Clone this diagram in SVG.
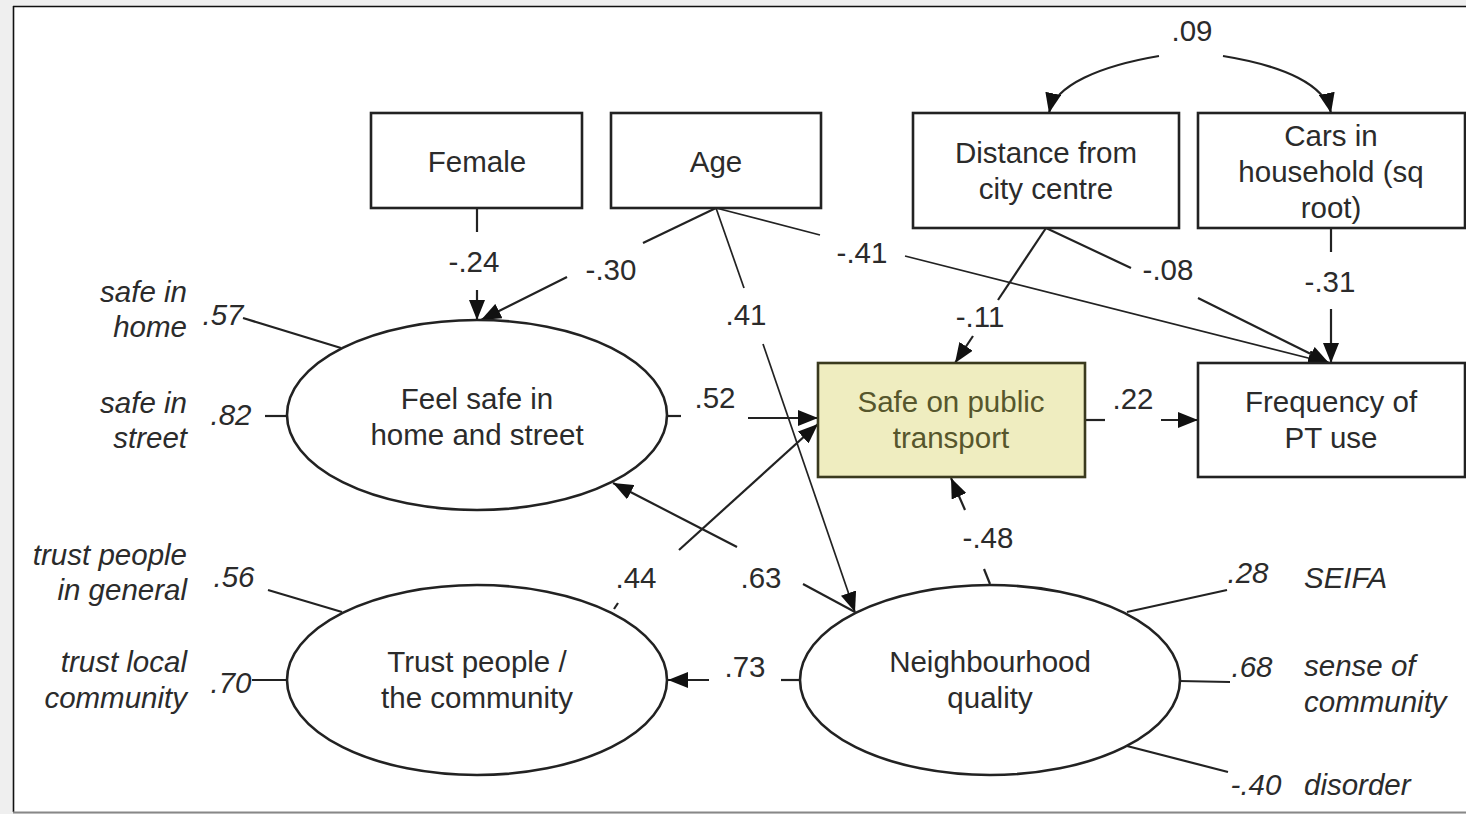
<svg xmlns="http://www.w3.org/2000/svg" width="1466" height="814" viewBox="0 0 1466 814">
<style>
.t{font-family:"Liberation Sans",Arial,sans-serif;font-size:29.5px;fill:#2b2b2b;text-anchor:middle}
.i{font-family:"Liberation Sans",Arial,sans-serif;font-size:29.5px;fill:#2b2b2b;font-style:italic}
.r{text-anchor:end}
.m{text-anchor:middle}
.box{fill:#fff;stroke:#222;stroke-width:2.6}
.ell{fill:#fff;stroke:#222;stroke-width:2.6}
.ln{stroke:#222;stroke-width:2.2;fill:none}
.th{stroke:#222;stroke-width:1.7;fill:none}
.a{marker-end:url(#ah)}
</style>
<defs>
<marker id="ah" viewBox="0 0 20 16" refX="20" refY="8" markerWidth="20" markerHeight="16" markerUnits="userSpaceOnUse" orient="auto">
<path d="M0,0 L20,8 L0,16 Z" fill="#111"/>
</marker>
</defs>
<rect x="0" y="0" width="1466" height="814" fill="#efefef"/>
<rect x="13" y="6" width="1460" height="806" fill="#fff"/>
<line x1="13" y1="6.5" x2="1466" y2="6.5" stroke="#111" stroke-width="1.6"/>
<line x1="13.5" y1="6" x2="13.5" y2="812" stroke="#111" stroke-width="1.6"/>
<line x1="13" y1="812.5" x2="1466" y2="812.5" stroke="#888" stroke-width="2"/>

<g id="connectors">
<!-- .09 covariance -->
<path class="ln a" d="M1159,56 C1100,66 1055,85 1049,113"/>
<path class="ln a" d="M1223,56 C1285,66 1325,85 1331,113"/>
<!-- Female -> Feel safe -->
<line class="ln" x1="477" y1="208" x2="477" y2="232"/>
<line class="ln a" x1="477" y1="290" x2="477" y2="320"/>
<!-- Age -> Feel safe -->
<line class="ln" x1="716" y1="208" x2="643" y2="243"/>
<line class="ln a" x1="567" y1="277" x2="481" y2="320"/>
<!-- Age -> Neighbourhood -->
<line class="th" x1="716" y1="208" x2="744" y2="288"/>
<line class="th a" x1="763" y1="344" x2="855" y2="612"/>
<!-- Age -> Frequency -->
<line class="th" x1="716" y1="208" x2="820" y2="235"/>
<line class="th a" x1="905" y1="256" x2="1328" y2="363"/>
<!-- Distance -> Frequency -->
<line class="ln" x1="1046" y1="228" x2="1131" y2="268"/>
<line class="ln a" x1="1198" y1="298" x2="1329" y2="363"/>
<!-- Distance -> Safe PT -->
<line class="ln" x1="1046" y1="228" x2="998" y2="300"/>
<line class="ln a" x1="973" y1="336" x2="955" y2="363"/>
<!-- Cars -> Frequency -->
<line class="ln" x1="1331" y1="228" x2="1331" y2="252"/>
<line class="ln a" x1="1331" y1="309" x2="1331" y2="363"/>
<!-- Feel safe -> Safe PT -->
<line class="ln" x1="667" y1="416" x2="681" y2="416"/>
<line class="ln a" x1="748" y1="418" x2="818" y2="418"/>
<!-- Trust -> Safe PT -->
<line class="ln" x1="614" y1="609" x2="618" y2="603"/>
<line class="ln a" x1="679" y1="550" x2="818" y2="424"/>
<!-- Neighbourhood -> Feel safe -->
<line class="ln" x1="855" y1="612" x2="803" y2="584"/>
<line class="ln a" x1="737" y1="547" x2="613" y2="483"/>
<!-- Neighbourhood -> Safe PT -->
<line class="ln" x1="990" y1="584" x2="984" y2="569"/>
<line class="ln a" x1="965" y1="510" x2="951" y2="478"/>
<!-- Neighbourhood -> Trust -->
<line class="ln" x1="800" y1="680" x2="781" y2="680"/>
<line class="ln a" x1="709" y1="680" x2="668" y2="680"/>
<!-- Safe PT -> Frequency -->
<line class="ln" x1="1085" y1="420" x2="1105" y2="420"/>
<line class="ln a" x1="1161" y1="420" x2="1198" y2="420"/>
<!-- indicator lines -->
<line class="ln" x1="243" y1="318" x2="341" y2="348"/>
<line class="ln" x1="265" y1="416" x2="287" y2="416"/>
<line class="ln" x1="268" y1="590" x2="342" y2="612"/>
<line class="ln" x1="252" y1="680" x2="287" y2="680"/>
<line class="ln" x1="1127" y1="612" x2="1227" y2="590"/>
<line class="ln" x1="1179" y1="681" x2="1230" y2="682"/>
<line class="ln" x1="1127" y1="746" x2="1228" y2="772"/>
</g>

<g id="female"><rect class="box" x="371" y="113" width="211" height="95"/><text class="t" x="477" y="172">Female</text></g>
<g id="age"><rect class="box" x="611" y="113" width="210" height="95"/><text class="t" x="716" y="172">Age</text></g>
<g id="distance"><rect class="box" x="913" y="113" width="266" height="115"/><text class="t" x="1046" y="163">Distance from</text><text class="t" x="1046" y="199">city centre</text></g>
<g id="cars"><rect class="box" x="1198" y="113" width="267" height="115"/><text class="t" x="1331" y="146">Cars in</text><text class="t" x="1331" y="182">household (sq</text><text class="t" x="1331" y="218">root)</text></g>
<g id="safept"><rect x="818" y="363" width="267" height="114" fill="#efedc0" stroke="#3a3a1e" stroke-width="2.6"/><text class="t" x="951" y="412" style="fill:#56562c">Safe on public</text><text class="t" x="951" y="448" style="fill:#56562c">transport</text></g>
<g id="frequency"><rect class="box" x="1198" y="363" width="267" height="114"/><text class="t" x="1331" y="412">Frequency of</text><text class="t" x="1331" y="448">PT use</text></g>
<g id="feelsafe"><ellipse class="ell" cx="477" cy="415" rx="190" ry="95"/><text class="t" x="477" y="409">Feel safe in</text><text class="t" x="477" y="445">home and street</text></g>
<g id="trust"><ellipse class="ell" cx="477" cy="680" rx="190" ry="95"/><text class="t" x="477" y="672">Trust people /</text><text class="t" x="477" y="708">the community</text></g>
<g id="neighbourhood"><ellipse class="ell" cx="990" cy="680" rx="190" ry="95"/><text class="t" x="990" y="672">Neighbourhood</text><text class="t" x="990" y="708">quality</text></g>

<g id="labels">
<text class="t" x="1192" y="41">.09</text>
<text class="t" x="474" y="272">-.24</text>
<text class="t" x="611" y="280">-.30</text>
<text class="t" x="862" y="263">-.41</text>
<text class="t" x="746" y="325">.41</text>
<text class="t" x="1168" y="280">-.08</text>
<text class="t" x="1330" y="292">-.31</text>
<text class="t" x="980" y="327">-.11</text>
<text class="t" x="715" y="408">.52</text>
<text class="t" x="1133" y="409">.22</text>
<text class="t" x="988" y="548">-.48</text>
<text class="t" x="636" y="588">.44</text>
<text class="t" x="761" y="588">.63</text>
<text class="t" x="745" y="677">.73</text>
<text class="i m" x="223" y="325">.57</text>
<text class="i m" x="231" y="425">.82</text>
<text class="i m" x="234" y="587">.56</text>
<text class="i m" x="231" y="693">.70</text>
<text class="i m" x="1248" y="583">.28</text>
<text class="i m" x="1252" y="677">.68</text>
<text class="i m" x="1256" y="795">-.40</text>
<text class="i r" x="187" y="302">safe in</text>
<text class="i r" x="187" y="337">home</text>
<text class="i r" x="187" y="413">safe in</text>
<text class="i r" x="187" y="448">street</text>
<text class="i r" x="187" y="565">trust people</text>
<text class="i r" x="187" y="600">in general</text>
<text class="i r" x="187" y="672">trust local</text>
<text class="i r" x="187" y="708">community</text>
<text class="i" x="1304" y="588">SEIFA</text>
<text class="i" x="1304" y="676">sense of</text>
<text class="i" x="1304" y="712">community</text>
<text class="i" x="1304" y="795">disorder</text>
</g>
</svg>
